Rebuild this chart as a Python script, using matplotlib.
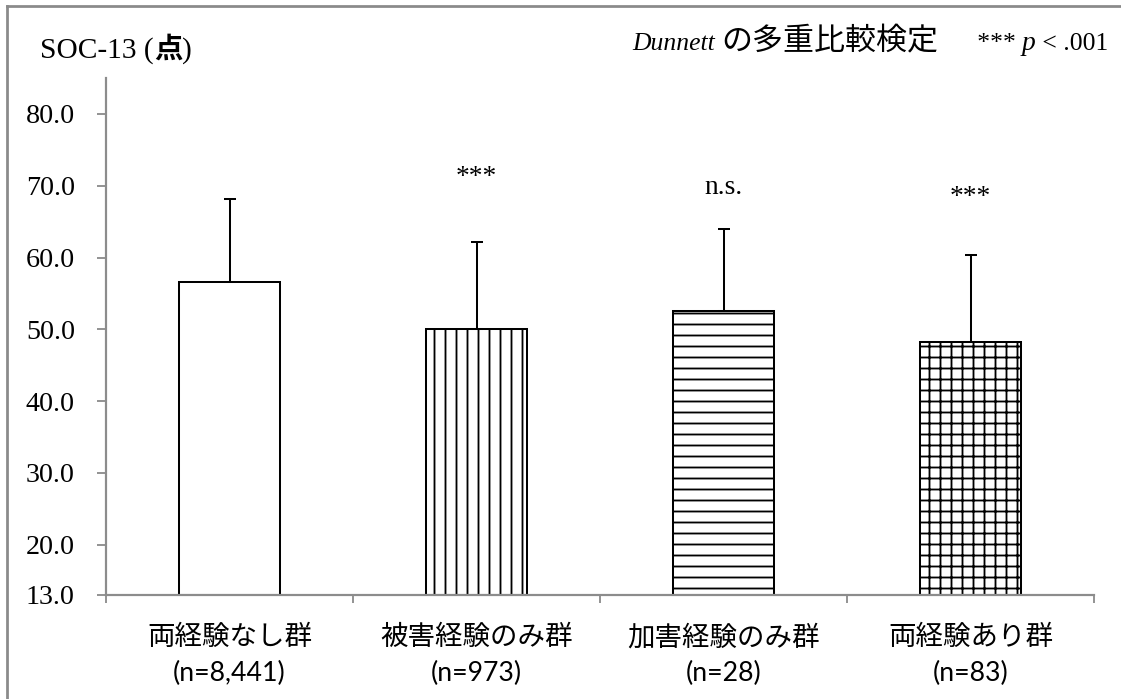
import numpy as np
import matplotlib
matplotlib.use('Agg')
import matplotlib.pyplot as plt
from matplotlib.lines import Line2D

# data
groups = ['両経験なし群', '被害経験のみ群', '加害経験のみ群', '両経験あり群']
n_labels = ['(n=8,441)', '(n=973)', '(n=28)', '(n=83)']
means = [56.6, 50.1, 52.5, 48.2]
sds = [11.6, 12.1, 11.5, 12.2]
signif = ['', '***', 'n.s.', '***']
signif_y = [0, 71.2, 69.7, 68.3]
yticks = [13, 20, 30, 40, 50, 60, 70, 80]

serif = 'Liberation Serif'
jp = 'Noto Sans CJK JP'
gray = '#8c8c8c'

plt.rcParams['hatch.linewidth'] = 1.0

fig = plt.figure(figsize=(1121 / 132, 699 / 132), dpi=132)
ax = fig.add_axes([106 / 1121, 1 - 595 / 699, (1094 - 106) / 1121, (595 - 78) / 699])

x = np.arange(len(groups))
hatches = ['', '||', '--', '++']
bars = ax.bar(x, np.array(means) - 13, bottom=13, width=0.405, color='white',
              edgecolor='black', linewidth=1.1, zorder=2)
for b, h in zip(bars, hatches):
    b.set_hatch(h)

ax.errorbar(x, means, yerr=[np.zeros(len(sds)), sds], fmt='none', ecolor='black',
            elinewidth=1.1, capsize=3.5, capthick=1.1, zorder=3)

for xi, s, sy in zip(x, signif, signif_y):
    if s:
        ax.text(xi, sy, s, ha='center', va='center', fontsize=15, family=serif)

ax.set_xlim(-0.5, 3.5)
ax.set_ylim(13, 85)
ax.set_yticks(yticks)
ax.set_yticklabels([f'{v:.1f}' for v in yticks], family=serif, fontsize=15.3)
ax.set_xticks(np.arange(-0.5, 4, 1))
ax.set_xticklabels([])
ax.tick_params(axis='y', direction='out', length=5, width=1, color=gray, pad=12)
ax.tick_params(axis='x', direction='out', length=4.5, width=1, color=gray)
for side in ['top', 'right']:
    ax.spines[side].set_visible(False)
for side in ['left', 'bottom']:
    ax.spines[side].set_color(gray)
    ax.spines[side].set_linewidth(1.2)

# category labels below the axis
for xi, g, n in zip(x, groups, n_labels):
    ax.text(xi, -0.083, g, transform=ax.get_xaxis_transform(), ha='center', va='center',
            fontsize=15, family=jp)
    ax.text(xi, -0.152, n, transform=ax.get_xaxis_transform(), ha='center', va='center',
            fontsize=14.5, family='Lato')

renderer = fig.canvas.get_renderer()


def put_pieces(pieces, x_right, y_base):
    # lays text pieces out right to left so they end at x_right (pixels)
    xr = x_right
    for txt, size, kw in reversed(pieces):
        t = fig.text(xr / 1121, 1 - y_base / 699, txt, ha='right', va='baseline',
                     fontsize=size, **kw)
        xr = t.get_window_extent(renderer).x0


# y-axis title
put_pieces([
    ('SOC-13 (', 16, dict(family=serif)),
    ('点', 15.5, dict(family=jp, weight='bold')),
    (')', 16, dict(family=serif)),
], 192, 58)

# right header
put_pieces([
    ('Dunnett', 14, dict(family=serif, style='italic')),
    (' ', 14, dict(family=serif)),
    ('の多重比較検定', 16.9, dict(family=jp)),
    ('      *** ', 14, dict(family=serif)),
    ('p', 15, dict(family=serif, style='italic')),
    (' < .001', 14, dict(family=serif)),
], 1108, 50)

# outer frame (left and top edges)
fig.add_artist(Line2D([7 / 1121, 7 / 1121], [0, 1 - 6 / 699], transform=fig.transFigure,
                      color='#8a8a8a', lw=1.5))
fig.add_artist(Line2D([7 / 1121, 1], [1 - 6 / 699, 1 - 6 / 699], transform=fig.transFigure,
                      color='#8a8a8a', lw=1.5))

fig.savefig('out.png', dpi=132)
